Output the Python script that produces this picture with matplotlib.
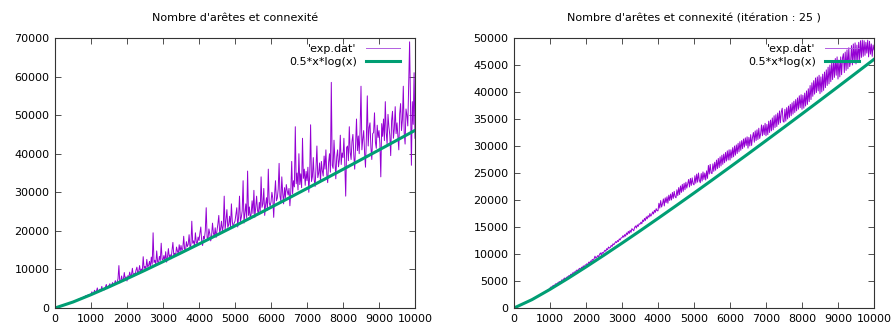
import numpy as np
import matplotlib
matplotlib.use("Agg")
import matplotlib.pyplot as plt

# x positions of the exp.dat samples (step 25)
x_exp = np.arange(0, 10001, 25)

# left panel, exp.dat (thousands of edges)
exp_left = [
    0, 0.05, 0.1, 0.17, 0.23, 0.3, 0.38, 0.45, 0.53, 0.6, 0.69, 0.77, 0.86, 0.95, 1.03, 1.1, 1.2, 1.3, 1.38, 1.45,
    1.6, 1.7, 1.9, 1.8, 2.0, 2.1, 2.3, 2.2, 2.4, 2.6, 2.5, 2.7, 2.9, 2.8, 3.2, 2.9, 3.1, 3.5, 3.2, 3.4,
    3.6, 4.2, 3.5, 3.9, 4.6, 4.0, 4.3, 5.2, 4.1, 4.5, 4.9, 4.4, 5.6, 4.6, 5.0, 4.7, 5.4, 6.1, 5.0, 5.6,
    5.8, 6.3, 5.5, 6.0, 6.6, 5.9, 6.2, 7.1, 6.3, 6.6, 7.6, 11.0, 6.5, 7.0, 8.3, 6.9, 7.5, 9.2, 7.4, 8.1,
    7.0, 8.4, 7.9, 9.3, 8.2, 8.7, 10.3, 8.3, 9.0, 8.6, 9.8, 10.6, 8.9, 9.5, 11.0, 9.3, 10.1, 9.6, 13.3, 10.2,
    10.8, 10.1, 12.6, 10.6, 11.0, 12.1, 10.5, 13.2, 11.3, 19.5, 11.8, 12.4, 11.2, 14.8, 12.0, 11.6, 13.4, 12.3, 16.8, 12.6,
    12.5, 13.6, 12.1, 14.6, 11.9, 13.3, 15.4, 13.0, 13.8, 12.8, 14.9, 17.0, 13.6, 14.2, 13.4, 15.8, 14.8, 14.0, 16.4, 14.6,
    16.2, 14.9, 15.4, 18.6, 15.2, 14.8, 17.2, 15.9, 16.5, 19.0, 15.7, 16.3, 22.5, 16.8, 17.4, 16.0, 19.5, 17.1, 16.6, 18.4,
    17.5, 19.4, 21.0, 17.2, 16.2, 18.6, 17.9, 20.1, 26.0, 18.3, 17.8, 20.5, 19.2, 17.4, 18.8, 22.0, 19.4, 18.6, 20.8, 18.3,
    20.0, 21.8, 24.0, 19.3, 20.6, 22.5, 19.8, 21.4, 29.0, 20.2, 22.8, 25.5, 20.9, 21.6, 23.8, 21.0, 27.0, 22.4, 20.8, 22.0,
    22.5, 24.3, 26.0, 21.0, 23.6, 29.0, 22.4, 23.5, 25.2, 33.0, 22.0, 24.6, 27.0, 23.3, 35.5, 24.0, 26.2, 23.1, 24.5, 27.8,
    24.5, 30.5, 23.5, 26.0, 29.0, 25.3, 24.4, 27.4, 25.0, 34.0, 26.1, 27.0, 31.0, 24.0, 26.8, 28.6, 25.4, 36.0, 27.3, 26.4,
    27.5, 30.0, 28.4, 23.5, 29.4, 33.0, 27.8, 28.5, 30.8, 37.5, 29.0, 27.6, 34.0, 29.8, 27.0, 31.2, 28.6, 32.0, 30.4, 29.3,
    31.0, 26.5, 30.2, 38.0, 29.6, 33.0, 31.4, 47.0, 32.2, 35.0, 30.6, 40.0, 32.0, 34.8, 31.2, 44.0, 33.6, 36.0, 31.8, 35.4,
    33.0, 36.5, 30.0, 34.4, 47.5, 32.8, 34.0, 39.0, 33.2, 31.5, 36.4, 42.0, 33.8, 35.0, 37.6, 32.6, 38.0, 35.6, 34.2, 39.4,
    36.0, 41.0, 34.6, 32.5, 37.8, 40.0, 35.2, 58.5, 37.0, 36.2, 43.5, 38.4, 33.5, 39.2, 41.0, 36.6, 38.5, 44.8, 37.2, 40.2,
    39.0, 44.0, 37.4, 29.0, 41.6, 42.0, 38.2, 47.0, 40.4, 38.5, 43.2, 45.0, 39.6, 36.0, 42.4, 49.0, 40.8, 44.6, 40.0, 46.2,
    57.5, 41.0, 43.8, 46.0, 40.2, 36.5, 44.4, 55.0, 42.0, 46.8, 48.0, 41.6, 38.5, 45.2, 45.5, 50.6, 43.0, 41.4, 47.4, 44.2,
    46.0, 42.6, 34.0, 47.8, 44.5, 49.0, 43.4, 53.5, 45.6, 42.5, 50.2, 47.0, 44.8, 39.5, 48.6, 51.0, 44.0, 46.4, 52.2, 45.2,
    48.0, 44.6, 41.0, 50.4, 53.0, 46.0, 48.8, 57.5, 45.4, 42.5, 51.6, 50.0, 47.2, 58.0, 69.0, 52.0, 37.0, 53.5, 47.6, 61.0,
    44.0,
]

# right panel (iteration 25), exp.dat (thousands)
exp_right = [
    0, 0.05, 0.1, 0.17, 0.24, 0.31, 0.39, 0.46, 0.54, 0.62, 0.7, 0.78, 0.87, 0.96, 1.04, 1.12, 1.21, 1.3, 1.4, 1.48,
    1.62, 1.7, 1.82, 1.86, 2.0, 2.08, 2.18, 2.24, 2.36, 2.46, 2.56, 2.64, 2.78, 2.84, 2.98, 3.06, 3.18, 3.26, 3.38, 3.48,
    3.7, 3.9, 3.85, 4.1, 4.2, 4.15, 4.45, 4.5, 4.4, 4.75, 4.8, 4.9, 4.85, 5.2, 5.15, 5.3, 5.55, 5.4, 5.6, 5.75,
    5.8, 6.0, 5.9, 6.25, 6.1, 6.5, 6.4, 6.7, 6.55, 6.9, 7.05, 6.85, 7.2, 7.35, 7.1, 7.55, 7.45, 7.8, 7.6, 7.95,
    8.0, 8.2, 7.95, 8.5, 8.3, 8.7, 8.6, 9.0, 8.8, 9.1, 9.6, 9.2, 9.4, 9.7, 9.5, 9.9, 10.2, 9.8, 10.3, 10.1,
    10.4, 10.7, 10.5, 11.0, 10.8, 11.3, 11.1, 11.2, 11.6, 11.4, 11.9, 11.7, 12.0, 12.3, 12.1, 12.5, 12.3, 12.8, 12.6, 13.0,
    13.0, 13.4, 13.1, 13.6, 13.3, 13.9, 13.6, 14.2, 13.8, 14.4, 14.0, 14.7, 14.5, 14.3, 14.9, 15.2, 14.8, 15.4, 15.1, 15.6,
    15.5, 15.9, 15.6, 16.3, 16.0, 16.6, 16.2, 16.9, 16.5, 17.1, 16.8, 17.5, 17.0, 17.3, 17.8, 17.4, 18.1, 17.7, 18.4, 18.0,
    18.0, 19.4, 18.5, 19.9, 18.7, 19.3, 20.2, 18.9, 20.4, 19.5, 20.6, 19.4, 20.9, 19.9, 21.1, 20.0, 21.4, 20.3, 21.6, 20.6,
    20.4, 21.9, 20.8, 22.3, 21.0, 22.6, 21.4, 22.9, 21.6, 23.1, 21.9, 23.3, 22.2, 23.0, 23.8, 22.4, 24.0, 22.7, 24.1, 23.0,
    22.8, 24.5, 23.1, 24.8, 23.3, 25.0, 23.6, 23.2, 24.9, 23.5, 25.2, 23.8, 25.0, 23.7, 25.4, 24.0, 26.4, 24.8, 26.6, 25.0,
    24.9, 26.7, 25.3, 27.0, 25.5, 27.4, 25.8, 27.7, 26.0, 28.0, 26.3, 28.3, 26.6, 28.5, 26.9, 28.8, 27.2, 29.1, 27.4, 29.3,
    27.4, 29.3, 27.8, 29.7, 28.0, 30.0, 28.3, 30.2, 28.6, 30.5, 28.9, 30.8, 29.2, 31.0, 29.5, 31.3, 29.8, 31.5, 30.1, 31.7,
    29.6, 31.6, 30.0, 32.1, 30.1, 31.6, 32.5, 30.7, 32.8, 31.0, 33.0, 31.2, 33.3, 31.4, 32.2, 33.9, 31.9, 33.8, 32.1, 34.2,
    31.9, 34.0, 32.1, 34.6, 32.5, 34.8, 32.8, 35.2, 33.0, 35.6, 33.4, 35.8, 33.6, 36.1, 34.0, 36.5, 34.3, 36.3, 37.0, 34.6,
    34.4, 36.8, 34.6, 37.1, 35.0, 37.4, 35.3, 37.7, 35.6, 38.0, 35.9, 38.3, 36.2, 38.6, 36.5, 38.9, 36.8, 39.3, 37.1, 39.5,
    36.8, 39.4, 37.0, 39.8, 37.4, 40.2, 37.7, 40.6, 38.2, 41.2, 38.6, 41.7, 39.2, 42.1, 39.6, 42.6, 39.9, 42.8, 40.2, 43.1,
    39.7, 42.8, 40.0, 43.3, 40.3, 43.7, 40.8, 44.1, 41.2, 44.6, 41.5, 45.0, 41.9, 45.4, 42.3, 45.8, 42.7, 46.2, 43.1, 46.5,
    42.4, 45.9, 42.8, 46.5, 43.2, 46.3, 47.1, 43.6, 47.4, 44.0, 47.8, 44.3, 48.2, 44.7, 45.6, 48.6, 45.0, 48.9, 45.4, 49.1,
    45.2, 48.7, 45.6, 49.2, 46.0, 49.5, 46.4, 49.6, 46.6, 49.5, 46.8, 49.2, 47.2, 49.6, 46.5, 49.4, 47.0, 48.9, 46.6, 48.7,
    47.8,
]

# 0.5*x*log(x) sampled every 500 (thousands)
x_fit = np.arange(0, 10001, 500)
fit_vals = [0, 1.55, 3.45, 5.48, 7.60, 9.78, 12.01, 14.28, 16.59, 18.93,
            21.29, 23.68, 26.10, 28.53, 30.99, 33.46, 35.95, 38.45, 40.97,
            43.51, 46.05]

titles = ["Nombre d'arêtes et connexité",
          "Nombre d'arêtes et connexité (itération : 25 )"]
ymax = [70000, 50000]
ystep = [10000, 5000]

PURPLE = '#9400D3'
GREEN = '#009E73'

plt.rcParams['font.family'] = ['DejaVu Sans']
plt.rcParams['font.size'] = 8

fig = plt.figure(figsize=(8.93, 3.26), dpi=100)
ax_pos = [[55 / 893, 18 / 326, 360 / 893, 270 / 326],
          [514 / 893, 18 / 326, 360 / 893, 270 / 326]]

for i, exp in enumerate([exp_left, exp_right]):
    ax = fig.add_axes(ax_pos[i])
    ax.plot(x_exp, np.array(exp) * 1000, color=PURPLE, lw=0.7, label="'exp.dat'")
    ax.plot(x_fit, np.array(fit_vals) * 1000, color=GREEN, lw=2.2,
            label='0.5*x*log(x)')
    ax.set_xlim(0, 10000)
    ax.set_ylim(0, ymax[i])
    ax.set_xticks(np.arange(0, 10001, 1000))
    ax.set_yticks(np.arange(0, ymax[i] + 1, ystep[i]))
    ax.tick_params(direction='in', top=True, right=True, length=4,
                   width=0.6, color='#333333', labelsize=8, pad=4)
    for s in ax.spines.values():
        s.set_color('#333333')
        s.set_linewidth(0.8)
    ax.set_title(titles[i], fontsize=8, pad=12)
    leg = ax.legend(loc='upper right', bbox_to_anchor=(0.983, 1.011),
                    frameon=False, markerfirst=False,
                    handlelength=3.1, handletextpad=0.8, labelspacing=0.25,
                    borderaxespad=0.4, fontsize=8)
    leg.get_lines()[0].set_color('#b25fe0')
    # right-justify legend text like gnuplot's key
    for col in leg._legend_handle_box.get_children():
        col.align = 'right'

fig.savefig('out.png', dpi=100)
